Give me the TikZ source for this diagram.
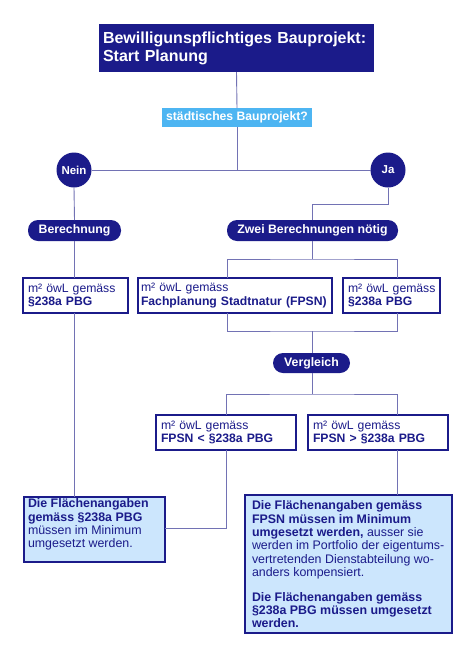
\documentclass[tikz,border=0pt]{standalone}
\usepackage{fontspec}
\setmainfont{Liberation Sans}
\definecolor{navy}{HTML}{1B1B8A}
\definecolor{lnc}{HTML}{7272B4}
\definecolor{qblue}{HTML}{4DB5F2}
\definecolor{rfill}{HTML}{CCE6FD}
\begin{document}
\begin{tikzpicture}[x=1pt,y=-1pt,
  every node/.style={inner sep=0pt,outer sep=0pt},
  conn/.style={draw=lnc,line width=0.9pt},
  title/.style={fill=navy,text=white,font=\fontsize{16}{18}\selectfont\bfseries,align=left},
  qbox/.style={fill=qblue,text=white,font=\fontsize{12.2}{14}\selectfont\bfseries},
  circ/.style={circle,fill=navy,text=white,minimum size=35pt,font=\fontsize{11.5}{13}\selectfont\bfseries},
  pill/.style={rounded corners=10pt,fill=navy,text=white,font=\fontsize{12.3}{14}\selectfont\bfseries,minimum height=21pt},
  wbox/.style={draw=navy,line width=2.4pt,fill=white,text=navy,align=left,font=\fontsize{12.2}{13.6}\selectfont,minimum height=35pt},
  rbox/.style={draw=navy,line width=2.4pt,fill=rfill,text=navy,font=\fontsize{12.4}{13.3}\selectfont},
]
\useasboundingbox[fill=white] (0,0) rectangle (473,662);
% nodes
\node[title,minimum width=275pt,minimum height=48pt,text width=267pt] (title) at (236.5,48) {Bewilligunspflichtiges Bauprojekt:\\Start Planung};
\node[qbox,minimum width=150pt,minimum height=19pt] (q) at (237,117.5) {städtisches Bauprojekt?};
\node[circ] (nein) at (74,170) {Nein};
\node[circ] (ja) at (388,170) {Ja};
\node[pill,minimum width=93pt] (ber) at (74.5,230.5) {Berechnung};
\node[pill,minimum width=171pt] (zwei) at (312.5,230.5) {Zwei Berechnungen nötig};
\node[wbox,minimum width=105pt,text width=95pt] (b1) at (75.5,295.5) {m²~öwL~gemäss\\\textbf{§238a PBG}};
\node[wbox,minimum width=194pt,text width=188pt] (fpsn) at (235,295.5) {m²~öwL~gemäss\\\textbf{Fachplanung Stadtnatur (FPSN)}};
\node[wbox,minimum width=97pt,text width=87pt] (pbg) at (391.5,295.5) {m²~öwL~gemäss\\\textbf{§238a PBG}};
\node[pill,minimum width=77pt,minimum height=20pt] (vgl) at (311.5,363) {Vergleich};
\node[wbox,minimum width=140pt,text width=130pt] (lt) at (226,432.5) {m²~öwL~gemäss\\\textbf{FPSN < §238a PBG}};
\node[wbox,minimum width=140pt,text width=130pt] (gt) at (378,432.5) {m²~öwL~gemäss\\\textbf{FPSN > §238a PBG}};
\node[rbox,minimum width=141pt,minimum height=65pt] (r1) at (94.5,529.5) {\parbox[c][61.2pt][t]{133pt}{\raggedright\textbf{Die Flächenangaben}\\\textbf{gemäss §238a PBG}\\müssen im Minimum\\umgesetzt werden.}};
\node[rbox,minimum width=207pt,minimum height=138pt] (r2) at (348.5,564) {\parbox[c][126.2pt][t]{193pt}{\raggedright\textbf{Die Flächenangaben gemäss}\\\textbf{FPSN müssen im Minimum}\\\textbf{umgesetzt werden,} ausser sie\\werden im Portfolio der eigentums-\\vertretenden Dienstabteilung wo-\\anders kompensiert.\\[11.7pt]\textbf{Die Flächenangaben gemäss}\\\textbf{§238a PBG müssen umgesetzt}\\\textbf{werden.}}};
% junction coordinates
\coordinate (qn) at (237,170);
\coordinate (jz) at (312,204);
\coordinate (zs) at (312,259);
\coordinate (vs) at (312,331);
\coordinate (vj) at (312,394);
\coordinate (r1e) at (165,528);
% connectors
\path[conn] (title.south) -- (q.north);
\path[conn] (q.south) -- (qn);
\path[conn] (nein.east) -- (ja.west);
\path[conn] (nein.south) -- (ber.north);
\path[conn] (ja.south) |- (jz) -- (zwei.north -| jz);
\path[conn] (zwei.south -| zs) -- (zs);
\path[conn] (fpsn.north -| 227,0) |- (zs) -| (pbg.north -| 397,0);
\path[conn] (ber.south) -- (b1.north -| ber.south);
\path[conn] (b1.south -| 74,0) -- (r1.north -| 74,0);
\path[conn] (fpsn.south -| 227,0) |- (vs) -| (pbg.south -| 397,0);
\path[conn] (vs) -- (vgl.north -| vs);
\path[conn] (vgl.south -| vj) -- (vj);
\path[conn] (lt.north -| 226,0) |- (vj) -| (gt.north -| 397,0);
\path[conn] (lt.south -| 226,0) |- (r1e);
\path[conn] (gt.south -| 397,0) -- (r2.north -| 397,0);
\end{tikzpicture}
\end{document}
